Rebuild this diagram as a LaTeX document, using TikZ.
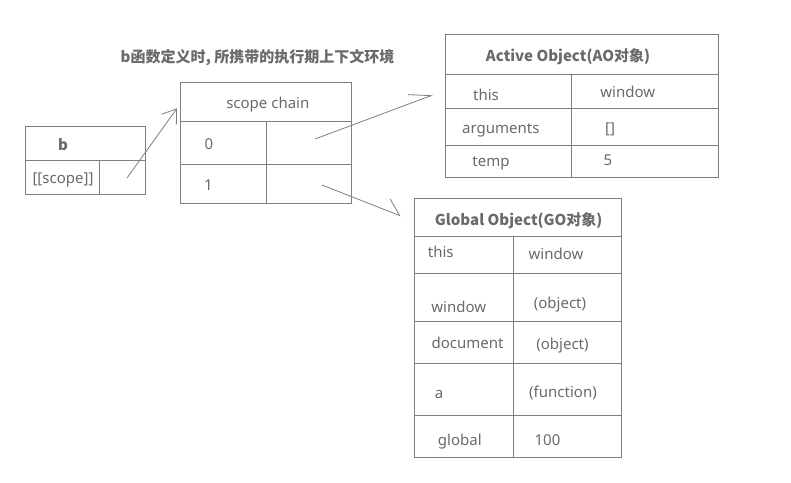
\documentclass[tikz,border=0pt]{standalone}
\usepackage{fontspec}
\setmainfont{Noto Sans}
\newfontfamily\cjk{Noto Sans CJK SC}
\usetikzlibrary{arrows.meta}
\definecolor{linegray}{HTML}{7F7F7F}
\definecolor{textgray}{HTML}{6A6A6A}
\begin{document}
\begin{tikzpicture}[x=1pt,y=-1pt,
  box/.style={draw=linegray,line width=1pt,rectangle,inner sep=0pt},
  txt/.style={text=textgray,anchor=base,inner sep=0pt,font=\fontsize{15}{18}\selectfont},
  hdr/.style={txt,font=\fontsize{15}{18}\selectfont\cjk\bfseries},
  sep/.style={draw=linegray,line width=1pt},
  conn/.style={draw=linegray,line width=0.8pt}]
\useasboundingbox[fill=white] (0,0) rectangle (791,482);

% title
\node[hdr] (title) at (257.5,62.3) {b函数定义时, 所携带的执行期上下文环境};

% b box
\node[box,minimum width=120pt,minimum height=68pt] (bbox) at (85,160) {};
\draw[sep] (25,160) -- (145,160);
\draw[sep] (99,160) -- (99,194);
\node[hdr] (bname) at (63,150.7) {b};
\node[txt] (bscope) at (63,183.5) {[[scope]]};

% scope chain box
\node[box,minimum width=171pt,minimum height=121pt] (sc) at (265.5,142.5) {};
\draw[sep] (180,121) -- (351,121);
\draw[sep] (180,164) -- (351,164);
\draw[sep] (266,121) -- (266,203);
\node[txt] (sctitle) at (267.8,108.3) {scope chain};
\node[txt] (sc0) at (209,149) {0};
\node[txt] (sc1) at (208.5,190.7) {1};

% AO box
\node[box,minimum width=273pt,minimum height=143pt] (ao) at (581.5,105.5) {};
\draw[sep] (445,74) -- (718,74);
\draw[sep] (445,108) -- (718,108);
\draw[sep] (445,145) -- (718,145);
\draw[sep] (571,74) -- (571,177);
\node[hdr] (aotitle) at (568,61) {Active Object(AO对象)};
\node[txt] (aothis) at (486,100) {this};
\node[txt] (aothisv) at (627.7,97.7) {window};
\node[txt] (aoargs) at (500.8,133) {arguments};
\node[txt] (aoargsv) at (610,133) {[]};
\node[txt] (aotemp) at (491,166.7) {temp};
\node[txt] (aotempv) at (608,165) {5};

% GO box
\node[box,minimum width=207pt,minimum height=259pt] (go) at (517.5,327.5) {};
\draw[sep] (414,236) -- (621,236);
\draw[sep] (414,273.3) -- (621,273.3);
\draw[sep] (414,321) -- (621,321);
\draw[sep] (414,363.3) -- (621,363.3);
\draw[sep] (414,415.3) -- (621,415.3);
\draw[sep] (513.3,236) -- (513.3,457);
\node[hdr] (gotitle) at (518.7,225) {Global Object(GO对象)};
\node[txt] (gothis) at (440.8,257.7) {this};
\node[txt] (gothisv) at (556,259.3) {window};
\node[txt] (gowin) at (458.7,312.7) {window};
\node[txt] (gowinv) at (560,308.3) {(object)};
\node[txt] (godoc) at (467.5,348.3) {document};
\node[txt] (godocv) at (562.5,349) {(object)};
\node[txt] (goa) at (439,398.3) {a};
\node[txt] (goav) at (563,397.3) {(function)};
\node[txt] (goglob) at (459.8,445.7) {global};
\node[txt] (goglobv) at (547.5,445.7) {100};

% connectors
\coordinate (a1s) at (127,178);
\coordinate (a1e) at (177,108.3);
\draw[conn,-{Straight Barb[length=13pt,width=18pt]}] (a1s) -- (a1e);
\coordinate (a2s) at (315,139);
\coordinate (a2e) at (432.7,95);
\draw[conn,-{Straight Barb[left,length=21pt,width=18pt]}] (a2s) -- (a2e);
\coordinate (a3s) at (322,185);
\coordinate (a3e) at (400.7,216);
\draw[conn,-{Straight Barb[left,length=15pt,width=24pt]}] (a3s) -- (a3e);
\end{tikzpicture}
\end{document}
